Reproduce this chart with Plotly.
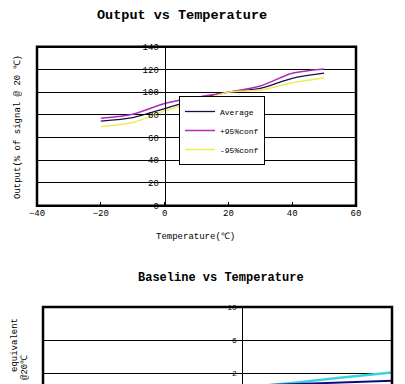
import plotly.graph_objects as go

# ---- data: Output vs Temperature ----
temps = [-20, -10, 0, 10, 20, 30, 40, 50]
average = [74.5, 77.5, 85.5, 93.7, 100, 103.3, 112.2, 116.7]
plus95 = [77, 80.5, 90, 95.4, 100, 105.4, 116.6, 120.4]
minus95 = [69.8, 73.3, 83.5, 91.6, 100, 101.9, 108.3, 112.5]
x_ticks = [-40, -20, 0, 20, 40, 60]
y_ticks = [0, 20, 40, 60, 80, 100, 120, 140]

# ---- data: Baseline vs Temperature (only upper part visible) ----
b_temps = [-20, -10, 0, 10, 20, 30]
b_upper = [-0.9, -0.35, 0.2, 0.8, 1.45, 2.05]
b_avg = [0.0, 0.2, 0.4, 0.62, 0.85, 1.07]
b_y_ticks = [2, 6, 10]

W, H = 405, 384
MONO = "Liberation Mono, DejaVu Sans Mono, monospace"

fig = go.Figure()
fig.add_trace(go.Scatter(x=temps, y=average, mode="lines", name="Average",
                         line=dict(color="#14124a", width=1.3, shape="spline", smoothing=0.8),
                         xaxis="x", yaxis="y"))
fig.add_trace(go.Scatter(x=temps, y=plus95, mode="lines", name="+95%conf",
                         line=dict(color="#b02cb8", width=1.5, shape="spline", smoothing=0.8),
                         xaxis="x", yaxis="y"))
fig.add_trace(go.Scatter(x=temps, y=minus95, mode="lines", name="-95%conf",
                         line=dict(color="#f0ea5a", width=1.5, shape="spline", smoothing=0.8),
                         xaxis="x", yaxis="y"))
fig.add_trace(go.Scatter(x=b_temps, y=b_upper, mode="lines", showlegend=False,
                         line=dict(color="#3cd2dc", width=2.5),
                         xaxis="x2", yaxis="y2"))
fig.add_trace(go.Scatter(x=b_temps, y=b_avg, mode="lines", showlegend=False,
                         line=dict(color="#0a0a80", width=2),
                         xaxis="x2", yaxis="y2"))

# geometry
tx0, tx1, ty0, ty1 = 37, 356, 46.7, 205.7
bx0, bx1, by1 = 43, 392, 307
top_zero_px = tx0 + (0 - x_ticks[0]) / (x_ticks[-1] - x_ticks[0]) * (tx1 - tx0)
b_xr = [-40, 30]
bot_zero_px = bx0 + (0 - b_xr[0]) / (b_xr[1] - b_xr[0]) * (bx1 - bx0)
b_ybottom = 10 - (H - by1) / 8.25

tick_font = dict(family=MONO, size=9, color="black")


def ann(text, x, y, size, angle=0):
    return dict(text=text, x=x / W, y=1 - y / H, xref="paper", yref="paper",
                showarrow=False, textangle=angle, xanchor="center", yanchor="middle",
                font=dict(family=MONO, size=size, color="black"))


fig.update_layout(
    width=W, height=H, margin=dict(l=0, r=0, t=0, b=0, pad=0, autoexpand=False),
    paper_bgcolor="white", plot_bgcolor="white",
    showlegend=True,
    legend=dict(x=179 / W, y=1 - 130.5 / H, xanchor="left", yanchor="middle",
                bgcolor="white", bordercolor="black", borderwidth=1,
                font=dict(family=MONO, size=8, color="black"),
                tracegroupgap=0, itemwidth=30),
    xaxis=dict(domain=[tx0 / W, tx1 / W], range=[x_ticks[0], x_ticks[-1]],
               tickvals=x_ticks, showgrid=False, zeroline=False,
               ticks="inside", ticklen=4, tickcolor="black",
               tickfont=tick_font, anchor="y", showline=False, automargin=False),
    yaxis=dict(domain=[1 - ty1 / H, 1 - ty0 / H], range=[y_ticks[0], y_ticks[-1]],
               tickvals=y_ticks, showgrid=True, gridcolor="black", gridwidth=1,
               zeroline=False, anchor="free", position=top_zero_px / W,
               showline=True, linecolor="black", linewidth=1, automargin=False,
               ticks="", tickfont=tick_font, ticklabelstandoff=4),
    xaxis2=dict(domain=[bx0 / W, bx1 / W], range=b_xr, showgrid=False,
                zeroline=False, showticklabels=False, ticks="", anchor="y2",
                automargin=False),
    yaxis2=dict(domain=[0, 1 - by1 / H], range=[b_ybottom, 10],
                tickvals=b_y_ticks, showgrid=True, gridcolor="black", gridwidth=1,
                zeroline=False, anchor="free", position=bot_zero_px / W,
                showline=True, linecolor="black", linewidth=1, automargin=False,
                ticks="", tickfont=dict(family=MONO, size=8, color="black"),
                ticklabelstandoff=4),
    shapes=[
        dict(type="rect", xref="x domain", yref="y domain", x0=0, x1=1, y0=0, y1=1,
             line=dict(color="black", width=2.5), fillcolor="rgba(0,0,0,0)"),
        dict(type="rect", xref="x2 domain", yref="y2 domain", x0=0, x1=1, y0=-0.5, y1=1,
             line=dict(color="black", width=2.5), fillcolor="rgba(0,0,0,0)"),
    ],
    annotations=[
        ann("<b>Output vs Temperature</b>", 182, 16, 13.5),
        ann("Temperature(℃)", 195, 237, 9),
        ann("Output(% of signal @ 20 ℃)", 18, 127, 9, -90),
        ann("<b>Baseline vs Temperature</b>", 221, 278, 12),
        ann("equivalent", 15, 345, 9, -90),
        ann("@20℃", 25, 368, 9, -90),
    ],
)

fig.write_html("out.html", config={"displayModeBar": False},
               post_script="document.body.style.margin='0px';document.body.style.overflow='hidden';")
